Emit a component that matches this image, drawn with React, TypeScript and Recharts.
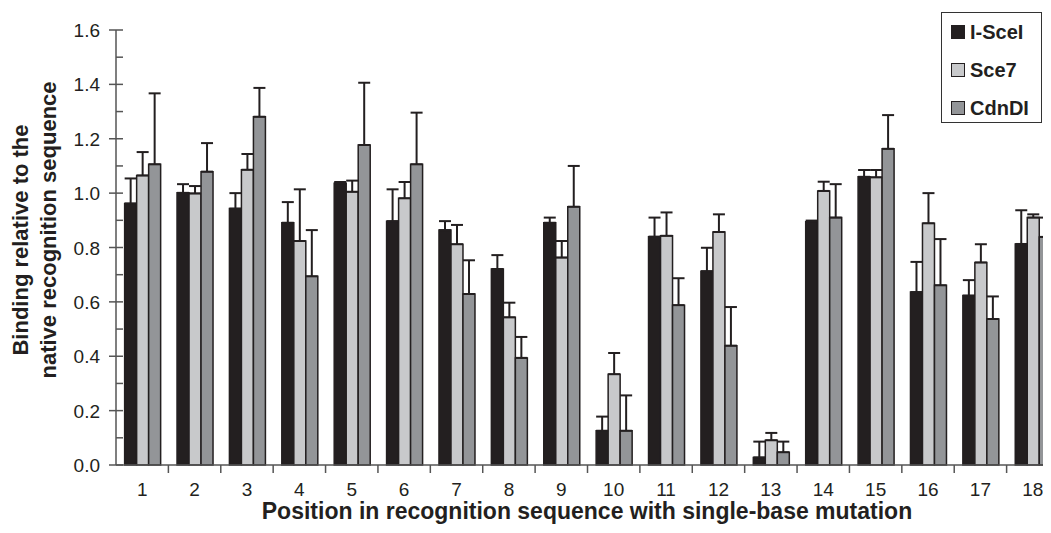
import React from "react";
import { BarChart, Bar, XAxis, YAxis, ErrorBar } from "recharts";

// binding relative to native recognition sequence
const positions = ["1", "2", "3", "4", "5", "6", "7", "8", "9", "10", "11", "12", "13", "14", "15", "16", "17", "18"];
const isceI = [0.962, 1.001, 0.943, 0.891, 1.036, 0.897, 0.864, 0.721, 0.891, 0.126, 0.84, 0.713, 0.028, 0.895, 1.06, 0.636, 0.623, 0.813];
const isceIErr = [0.092, 0.032, 0.057, 0.076, 0.005, 0.117, 0.033, 0.051, 0.019, 0.052, 0.07, 0.086, 0.058, 0.004, 0.025, 0.111, 0.057, 0.124];
const sce7 = [1.065, 0.999, 1.086, 0.824, 1.005, 0.981, 0.812, 0.543, 0.763, 0.334, 0.843, 0.857, 0.091, 1.008, 1.058, 0.889, 0.745, 0.91];
const sce7Err = [0.086, 0.027, 0.058, 0.19, 0.041, 0.06, 0.071, 0.054, 0.061, 0.078, 0.086, 0.065, 0.027, 0.034, 0.027, 0.111, 0.067, 0.012];
const cdnDI = [1.106, 1.079, 1.281, 0.694, 1.177, 1.106, 0.629, 0.394, 0.95, 0.126, 0.588, 0.439, 0.047, 0.91, 1.163, 0.661, 0.537, 0.839];
const cdnDIErr = [0.261, 0.105, 0.106, 0.17, 0.229, 0.19, 0.124, 0.077, 0.15, 0.13, 0.099, 0.142, 0.039, 0.123, 0.124, 0.17, 0.083, 0.071];
const yTicks = [0, 0.1, 0.2, 0.3, 0.4, 0.5, 0.6, 0.7, 0.8, 0.9, 1.0, 1.1, 1.2, 1.3, 1.4, 1.5, 1.6];

const series = [
  { key: "isceI", name: "I-SceI", color: "#231f20" },
  { key: "sce7", name: "Sce7", color: "#c8c9cb" },
  { key: "cdnDI", name: "CdnDI", color: "#939598" },
];

const data = positions.map((p, i) => ({
  pos: p,
  isceI: isceI[i],
  isceIErr: [0, isceIErr[i]],
  sce7: sce7[i],
  sce7Err: [0, sce7Err[i]],
  cdnDI: cdnDI[i],
  cdnDIErr: [0, cdnDIErr[i]],
}));

// plot runs a little past the right edge of the picture, as in the original crop
const W = 1075;
const H = 533;
const M = { top: 30, right: 16, bottom: 0, left: 0 };
const Y_W = 116;
const X_H = 68;
const band = (W - M.left - M.right - Y_W) / positions.length;
const ink = "#231f20";
const axisCol = "#555555";
const font = "Arial, 'Liberation Sans', Helvetica, sans-serif";

function YTick(props: any) {
  const { x, y, index } = props;
  const major = index % 2 === 0;
  return (
    <g>
      <line x1={major ? x - 7 : x} x2={x + 7} y1={y} y2={y} stroke={axisCol} strokeWidth={1.5} />
      {major && (
        <text x={x - 16} y={y + 7} textAnchor="end" fontSize={19} fontFamily={font} fill={ink}>
          {props.payload.value.toFixed(1)}
        </text>
      )}
    </g>
  );
}

function XTick(props: any) {
  const { x, y, payload } = props;
  return (
    <g>
      <line x1={x + band / 2} x2={x + band / 2} y1={y} y2={y + 8} stroke={axisCol} strokeWidth={1.5} />
      <text x={x} y={y + 31} textAnchor="middle" fontSize={19} fontFamily={font} fill={ink}>
        {payload.value}
      </text>
    </g>
  );
}

function XTitle() {
  return (
    <text x={587} y={519} textAnchor="middle" fontFamily={font} fontWeight="bold" fontSize={23} fill={ink}>
      Position in recognition sequence with single-base mutation
    </text>
  );
}

function YTitle() {
  return (
    <g fontFamily={font} fontWeight="bold" fontSize={22} fill={ink}>
      <text transform="translate(28,240) rotate(-90)" textAnchor="middle">
        Binding relative to the
      </text>
      <text transform="translate(56,230) rotate(-90)" textAnchor="middle">
        native recognition sequence
      </text>
    </g>
  );
}

function LegendBox() {
  return (
    <div
      style={{
        position: "absolute",
        left: 941,
        top: 12,
        width: 99,
        height: 109,
        border: "1px solid #333",
        background: "#fff",
        fontFamily: font,
        fontWeight: "bold",
        fontSize: 20,
        color: ink,
      }}
    >
      {series.map((s, i) => (
        <div key={s.key} style={{ position: "absolute", left: 9, top: 8 + i * 38, height: 22, display: "flex", alignItems: "center" }}>
          <span style={{ width: 12, height: 12, background: s.color, border: `1px solid ${ink}`, display: "inline-block", marginRight: 5 }} />
          <span>{s.name}</span>
        </div>
      ))}
    </div>
  );
}

export default function App() {
  return (
    <div style={{ margin: -8, width: 1051, height: 533, overflow: "hidden", position: "relative", background: "#fff" }}>
      <BarChart width={W} height={H} data={data} margin={M} barCategoryGap="16.5%" barGap={0}>
        <XAxis
          dataKey="pos"
          height={X_H}
          tickSize={0}
          tickMargin={0}
          tickLine={false}
          interval={0}
          tick={<XTick />}
          axisLine={{ stroke: axisCol, strokeWidth: 1.5 }}
          label={{ content: () => <XTitle /> }}
        />
        <YAxis
          width={Y_W}
          domain={[0, 1.6]}
          ticks={yTicks}
          interval={0}
          tickSize={0}
          tickMargin={0}
          tickLine={false}
          tick={<YTick />}
          axisLine={{ stroke: axisCol, strokeWidth: 1.5 }}
          label={{ content: () => <YTitle /> }}
        />
        {series.map((s) => (
          <Bar key={s.key} dataKey={s.key} name={s.name} fill={s.color} stroke={ink} strokeWidth={1.5} isAnimationActive={false}>
            <ErrorBar dataKey={`${s.key}Err`} direction="y" width={6} stroke={ink} strokeWidth={2} />
          </Bar>
        ))}
      </BarChart>
      <LegendBox />
    </div>
  );
}
